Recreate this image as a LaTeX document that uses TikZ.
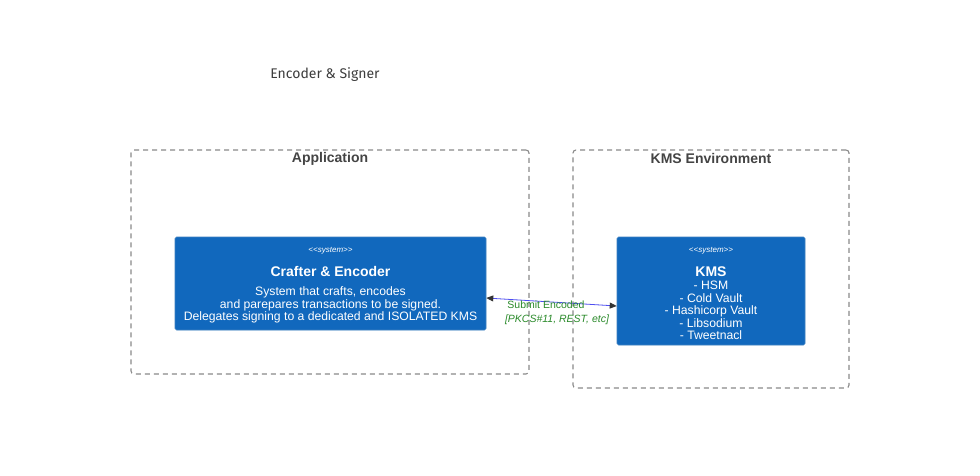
\documentclass[tikz,border=0pt]{standalone}
\usepackage{fontspec}
\setmainfont{Liberation Sans}
\newfontfamily\titlefont{Fira Sans}
\usetikzlibrary{arrows.meta}
\definecolor{sysblue}{HTML}{1168BD}
\definecolor{sysborder}{HTML}{3C7FC0}
\definecolor{boundgray}{HTML}{8A8A8A}
\definecolor{boundtext}{HTML}{444444}
\definecolor{relblue}{HTML}{4E4EF0}
\definecolor{relgreen}{HTML}{2A8A2A}
\definecolor{tipgray}{HTML}{333333}
\tikzset{
  boundary/.style={draw=boundgray, line width=1.1pt, dash pattern=on 5pt off 4pt, rounded corners=3pt, inner sep=0pt},
  boundlabel/.style={text=boundtext, font=\fontsize{14}{16}\selectfont\bfseries, inner sep=0pt},
  sysbox/.style={draw=sysborder, fill=sysblue, line width=0.6pt, rounded corners=1.5pt, inner sep=0pt},
  stereo/.style={text=white, font=\fontsize{8}{9}\selectfont\itshape, inner sep=0pt},
  systitle/.style={text=white, font=\fontsize{14}{16}\selectfont\bfseries, inner sep=0pt},
  sysbody/.style={text=white, font=\fontsize{12.2}{12.4}\selectfont, align=center, inner sep=0pt},
  rellabel/.style={text=relgreen, font=\fontsize{10.5}{12}\selectfont, inner sep=0pt},
  reltech/.style={text=relgreen, font=\fontsize{10.5}{12}\selectfont\itshape, inner sep=0pt},
}
\begin{document}
\begin{tikzpicture}[x=1pt,y=-1pt]
\useasboundingbox[fill=white] (0,0) rectangle (980,476);
\node[text=boundtext!90!black, font=\titlefont\fontsize{14}{16}\selectfont, inner sep=0pt] (title) at (325,74.5) {Encoder \& Signer};

\node[boundary, minimum width=398pt, minimum height=224pt] (app) at (330,262) {};
\node[boundlabel] (applabel) at (330,158.5) {Application};
\node[boundary, minimum width=276pt, minimum height=238pt] (kmsenv) at (711,269) {};
\node[boundlabel] (kmsenvlabel) at (711,158.5) {KMS Environment};

\node[sysbox, minimum width=311pt, minimum height=93pt] (crafter) at (330.5,283.5) {};
\node[stereo] (crafterst) at (330.5,250.5) {{<}{<}system{>}{>}};
\node[systitle] (craftertitle) at (330.5,271.5) {Crafter \& Encoder};
\node[sysbody] (crafterbody) at (330.5,305) {System that crafts, encodes\\and parepares transactions to be signed.\\Delegates signing to a dedicated and ISOLATED KMS};

\node[sysbox, minimum width=188pt, minimum height=108pt] (kms) at (711,291) {};
\node[stereo] (kmsst) at (711,250.5) {{<}{<}system{>}{>}};
\node[systitle] (kmstitle) at (711,271.5) {KMS};
\node[sysbody] (kmsbody) at (711,310.5) {- HSM\\- Cold Vault\\- Hashicorp Vault\\- Libsodium\\- Tweetnacl};

\draw[relblue, line width=0.8pt, {Triangle[color=tipgray, length=7pt, width=6pt]}-{Triangle[color=tipgray, length=7pt, width=6pt]}]
  ([yshift=-14.5pt]crafter.east) -- ([yshift=-15pt]kms.west);
\node[rellabel] (rel) at (546,304.5) {Submit Encoded};
\node[reltech] (reltechn) at (557,319.5) {[PKCS\#11, REST, etc]};
\end{tikzpicture}
\end{document}
